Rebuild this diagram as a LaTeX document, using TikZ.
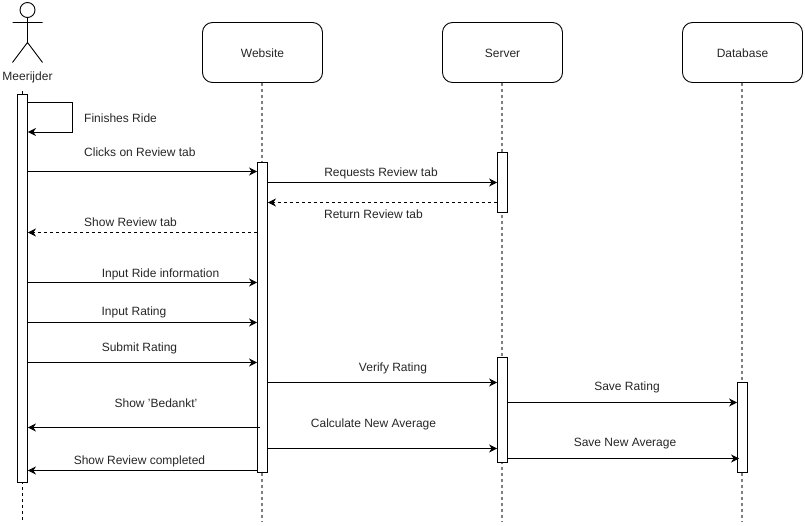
\documentclass[tikz,border=0pt]{standalone}
\usepackage{fontspec}
\setmainfont{Liberation Sans}
\usetikzlibrary{arrows.meta}
\tikzset{
  x=1pt,y=-1pt,
  every node/.style={font=\fontsize{12}{14}\selectfont,text=black!85},
  party/.style={draw=black,rounded corners=10pt,minimum width=120pt,minimum height=60pt,inner sep=0pt,line width=.9pt,text=black!85,text height=10.6pt,text depth=0pt},
  bar/.style={draw=black,fill=white,minimum width=10pt,inner sep=0pt,line width=.9pt},
  life/.style={draw=black!50,line width=1.1pt,dash pattern=on 3pt off 3pt},
  lifeb/.style={draw=black,line width=.8pt,dash pattern=on 3pt off 3pt},
  msg/.style={draw=black,line width=.9pt,-{Stealth[length=8pt,width=8pt,inset=2.5pt]}},
  ret/.style={msg,dash pattern=on 3pt off 3pt},
  lab/.style={anchor=center,inner sep=0pt,yshift=-1pt},
  labl/.style={anchor=west,inner sep=0pt,yshift=-1pt}
}
\begin{document}
\begin{tikzpicture}
\useasboundingbox (0,0) rectangle (805,526);
% parties
\node[party] (web) at (262.5,52.5) {Website};
\node[party] (srv) at (502.5,52.5) {Server};
\node[party] (dbs) at (742.5,52.5) {Database};
% actor
\node[draw=black,circle,minimum size=15pt,inner sep=0pt,line width=.9pt] (head) at (27.5,10) {};
\coordinate (neck) at (27.5,22.5);
\coordinate (armL) at (12.5,22.5);
\coordinate (armR) at (42.5,22.5);
\coordinate (hip) at (27.5,42.5);
\coordinate (legL) at (12.5,62.5);
\coordinate (legR) at (42.5,62.5);
\draw[line width=.9pt] (head.south) -- (hip) (armL) -- (armR) (legL) -- (hip) -- (legR);
\node[lab] (act) at (27.5,76.5) {Meerijder};
% lifeline ends
\coordinate (mEnd) at (22.5,522);
\coordinate (wEnd) at (262,522);
\coordinate (sEnd) at (502,522);
\coordinate (dEnd) at (742,522);
\coordinate (mTop) at (22.5,91);
\path[lifeb] (mTop) -- (mEnd);
\path[life] (web.south -| wEnd) -- (wEnd);
\path[life] (srv.south -| sEnd) -- (sEnd);
\path[life] (dbs.south -| dEnd) -- (dEnd);
% activation bars
\node[bar,minimum height=388pt] (bm) at (22.5,288) {};
\node[bar,minimum height=310pt] (bw) at (262.5,317) {};
\node[bar,minimum height=60pt] (bs1) at (502.5,182) {};
\node[bar,minimum height=105pt] (bs2) at (502.5,409.5) {};
\node[bar,minimum height=90pt] (bd) at (742.5,427) {};
% messages
\coordinate (selfA) at (72.5,102);
\coordinate (selfB) at (72.5,132);
\draw[msg] (bm.east |- selfA) -- (selfA) -- (selfB) -- (bm.east |- selfB);
\draw[msg] (bm.east |- 0,171.5) -- (bw.west |- 0,171.5);
\draw[msg] (bw.east |- 0,182.5) -- (bs1.west |- 0,182.5);
\draw[ret] (bs1.west |- 0,202.5) -- (bw.east |- 0,202.5);
\draw[ret] (bw.west |- 0,232.5) -- (bm.east |- 0,232.5);
\draw[msg] (bm.east |- 0,282.5) -- (bw.west |- 0,282.5);
\draw[msg] (bm.east |- 0,322.5) -- (bw.west |- 0,322.5);
\draw[msg] (bm.east |- 0,362.5) -- (bw.west |- 0,362.5);
\draw[msg] (bw.east |- 0,382.5) -- (bs2.west |- 0,382.5);
\draw[msg] (bs2.east |- 0,402.5) -- (bd.west |- 0,402.5);
\draw[msg] ([xshift=3pt]bw.west |- 0,427.5) -- (bm.east |- 0,427.5);
\draw[msg] (bw.east |- 0,448.5) -- (bs2.west |- 0,448.5);
\draw[msg] (bs2.east |- 0,458.5) -- ([xshift=2pt]bd.west |- 0,458.5);
\draw[msg] (bw.west |- 0,470.5) -- (bm.east |- 0,470.5);
% labels
\node[labl] (t1) at (84,117.5) {Finishes Ride};
\node[labl] (t2) at (84,151.5) {Clicks on Review tab};
\node[lab] (t3) at (381,172) {Requests Review tab};
\node[lab] (t4) at (373.5,213) {Return Review tab};
\node[labl] (t5) at (84,221.5) {Show Review tab};
\node[lab] (t6) at (160.5,273.5) {Input Ride information};
\node[lab] (t7) at (134,311) {Input Rating};
\node[lab] (t8) at (139.5,347) {Submit Rating};
\node[lab] (t9) at (393,367) {Verify Rating};
\node[lab] (t10) at (627,386.5) {Save Rating};
\node[lab] (t11) at (156,402.5) {Show 'Bedankt'};
\node[lab] (t12) at (373.5,423) {Calculate New Average};
\node[lab] (t13) at (625,442.5) {Save New Average};
\node[lab] (t14) at (139.5,460.5) {Show Review completed};
\end{tikzpicture}
\end{document}
